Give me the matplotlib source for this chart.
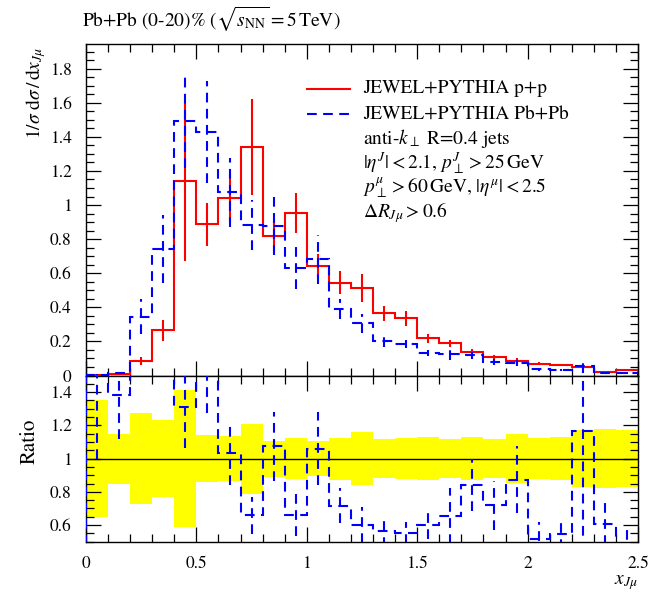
import numpy as np
import matplotlib
matplotlib.use('Agg')
import matplotlib.pyplot as plt
from matplotlib.ticker import MultipleLocator
from matplotlib.lines import Line2D

# binning in x_Jmu: 25 bins of width 0.1
bin_edges = np.round(np.linspace(0.0, 2.5, 26), 2)

# JEWEL+PYTHIA p+p (reference)
pp_vals = [0.002, 0.010, 0.087, 0.265, 1.141, 0.887, 1.041, 1.342, 0.818, 0.953,
           0.642, 0.545, 0.511, 0.365, 0.335, 0.218, 0.189, 0.140, 0.110, 0.087,
           0.070, 0.062, 0.049, 0.022, 0.035]
pp_errs = [0.0007, 0.0015, 0.024, 0.061, 0.468, 0.125, 0.143, 0.282, 0.089, 0.117,
           0.068, 0.069, 0.082, 0.043, 0.042, 0.028, 0.022, 0.018, 0.013, 0.013,
           0.0088, 0.0081, 0.0083, 0.0039, 0.006]

# JEWEL+PYTHIA Pb+Pb
pbpb_vals = [0.005, 0.0138, 0.345, 0.742, 1.494, 1.430, 1.074, 0.883, 0.879, 0.632,
             0.681, 0.391, 0.307, 0.205, 0.185, 0.131, 0.124, 0.118, 0.079, 0.076,
             0.036, 0.034, 0.057, 0.0134, 0.016]
pbpb_errs = [0.003, 0.0026, 0.103, 0.198, 0.279, 0.300, 0.200, 0.148, 0.170, 0.125,
             0.142, 0.058, 0.056, 0.035, 0.023, 0.0185, 0.0316, 0.022, 0.016, 0.0174,
             0.0074, 0.0056, 0.045, 0.0028, 0.0048]

legend_labels = ['JEWEL+PYTHIA p+p', 'JEWEL+PYTHIA Pb+Pb']
cut_lines = [r'anti-$k_\perp$ R=0.4 jets',
             r'$|\eta^J| < 2.1$, $p_\perp^J > 25\,\mathrm{GeV}$',
             r'$p_\perp^\mu > 60\,\mathrm{GeV}$, $|\eta^\mu| < 2.5$',
             r'$\Delta R_{J\mu} > 0.6$']

plt.rcParams['font.family'] = ['STIXGeneral', 'DejaVu Serif']
plt.rcParams['mathtext.fontset'] = 'stix'
plt.rcParams['lines.scale_dashes'] = False

RED = '#ff0000'
BLUE = '#0000ff'
DASH = (0, (7.0, 4.6))
LW = 1.5
FS = 14

pp = np.array(pp_vals)
pp_e = np.array(pp_errs)
pb = np.array(pbpb_vals)
pb_e = np.array(pbpb_errs)
centers = 0.5 * (bin_edges[:-1] + bin_edges[1:])

fig = plt.figure(figsize=(6.62, 5.92), dpi=100)
ax = fig.add_axes([86 / 662, 1 - 375.5 / 592, 552 / 662, 331.5 / 592])
axr = fig.add_axes([86 / 662, 1 - 541.7 / 592, 552 / 662, 166.2 / 592], sharex=ax)


def style_axis(a, ymaj, ymin):
    a.xaxis.set_major_locator(MultipleLocator(0.5))
    a.xaxis.set_minor_locator(MultipleLocator(0.1))
    a.yaxis.set_major_locator(MultipleLocator(ymaj))
    a.yaxis.set_minor_locator(MultipleLocator(ymin))
    a.tick_params(which='both', direction='in', top=True, right=True,
                  labelsize=12.5, pad=10.5, width=0.9)
    a.tick_params(which='major', length=11)
    a.tick_params(which='minor', length=5.5)
    for s in a.spines.values():
        s.set_linewidth(1.0)


# --- main panel ---
ax.stairs(pp, bin_edges, color=RED, lw=LW, zorder=3)
ax.vlines(centers, pp - pp_e, pp + pp_e, color=RED, lw=LW, zorder=3)
ax.stairs(pb, bin_edges, color=BLUE, lw=LW, linestyle=DASH, zorder=4)
ax.vlines(centers, pb - pb_e, pb + pb_e, color=BLUE, lw=LW, linestyles=[DASH], zorder=4)

ax.set_xlim(0, 2.5)
ax.set_ylim(0, 1.945)
style_axis(ax, 0.2, 0.05)
ax.tick_params(labelbottom=False)
ax.yaxis.set_major_formatter(plt.FuncFormatter(lambda v, p: '%g' % round(v, 2)))

# legend keys and labels
handles = [Line2D([0.400, 0.478], [0.863, 0.863], color=RED, lw=LW, transform=ax.transAxes),
           Line2D([0.400, 0.478], [0.789, 0.789], color=BLUE, lw=LW, linestyle=DASH,
                  transform=ax.transAxes)]
for h in handles:
    ax.add_line(h)
text_y = [0.852, 0.774, 0.698, 0.623, 0.551, 0.478]
for y, t in zip(text_y, legend_labels + cut_lines):
    ax.text(0.502, y, t, transform=ax.transAxes, fontsize=FS, va='baseline', ha='left')

# --- ratio panel ---
band = pp_e / pp
ratio = pb / pp
ratio_e = pb_e / pp
axr.stairs(1 + band, bin_edges, baseline=1 - band, fill=True, color='#ffff00',
           lw=0, zorder=1)
axr.axhline(1.0, color='black', lw=1.0, zorder=2)
axr.stairs(ratio, bin_edges, color=BLUE, lw=LW, linestyle=DASH, zorder=4)
axr.vlines(centers, ratio - ratio_e, ratio + ratio_e, color=BLUE, lw=LW,
           linestyles=[DASH], zorder=4)
axr.set_ylim(0.5, 1.5)
style_axis(axr, 0.2, 0.05)
axr.set_yticks([0.6, 0.8, 1.0, 1.2, 1.4])
axr.yaxis.set_major_formatter(plt.FuncFormatter(lambda v, p: '%g' % round(v, 2)))
axr.xaxis.set_major_formatter(plt.FuncFormatter(lambda v, p: '%g' % round(v, 2)))

# --- labels ---
fig.text(82 / 662, 1 - 27 / 592, r'Pb+Pb (0-20)% ($\sqrt{s_\mathrm{NN}} = 5\,\mathrm{TeV}$)',
         fontsize=FS, ha='left', va='baseline')
fig.text(36 / 662, 1 - 47 / 592, r'$1/\sigma\ \mathrm{d}\sigma\,/\,\mathrm{d}x_{J\mu}$',
         fontsize=FS, rotation=90, ha='center', va='top')
fig.text(30 / 662, 1 - 441 / 592, 'Ratio', fontsize=15, rotation=90,
         ha='center', va='center')
fig.text(638 / 662, 1 - 584 / 592, r'$x_{J\mu}$', fontsize=FS, ha='right',
         va='baseline')

fig.savefig('out.png', dpi=100)
